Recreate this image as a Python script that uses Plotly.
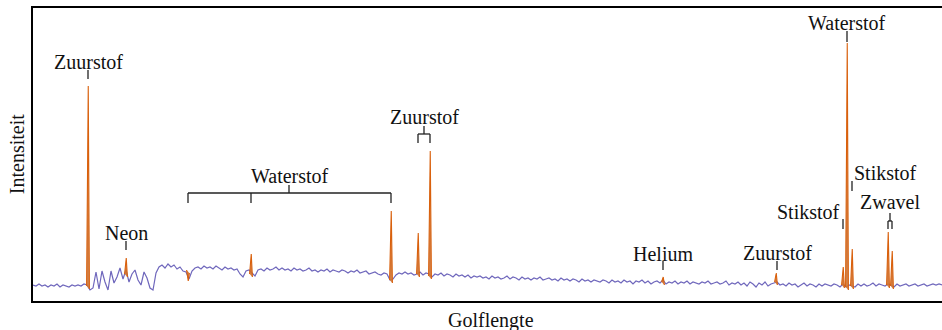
import plotly.graph_objects as go

# ---------------- data ----------------
# Baseline spectrum (intensity, arbitrary units) sampled every 3 wavelength units,
# given in segments: (start wavelength, values)
seg_a_start = 33
seg_a = [16, 15, 17, 15, 16, 14, 16, 15, 17, 14, 16, 15, 14, 16, 15, 16, 15, 17, 16]
seg_b_start = 90
seg_b = [11, 13, 29, 12, 30, 19, 11, 30, 18, 24, 33, 22, 31, 19, 27, 31, 21, 16, 29, 23,
         13, 11, 28, 34, 36, 33, 37, 34, 36, 32, 34, 30, 29]
seg_c_start = 189
seg_c = [22, 30, 33, 34, 32, 35, 33, 34, 32, 35, 33, 31, 34, 32, 33, 31, 32, 27, 24, 30,
         31, 28, 25, 31, 32, 30, 33, 31, 32, 34, 31, 33, 31, 32, 30, 33, 31, 32, 30, 31,
         33, 30, 31, 29, 31, 30, 32, 29, 31, 30, 29, 31, 30, 28, 30, 29, 31, 28, 29, 30,
         27, 28, 29, 27, 26, 28, 27]
seg_d_start = 390
seg_d = [21, 22, 26, 28, 27, 29, 27, 28, 26, 27, 29, 26, 28, 27, 24, 27, 26, 28, 25, 27,
         26, 24, 27, 25, 26, 24, 26, 23, 25, 24]
seg_e_start = 480
seg_e = [25, 23, 24, 22, 25, 23, 24, 22, 23, 25, 22, 24, 23, 21, 24, 22, 23, 21, 23, 22,
         24, 21, 22, 23, 21, 22, 20, 23, 21, 22, 20, 22, 21, 19, 22, 20, 21, 19, 21, 20,
         19, 21, 20, 18, 21, 19, 20, 18, 21, 19, 20, 17, 20, 19, 21, 18, 20, 17, 19, 20, 18]
seg_f_start = 663
seg_f = [21, 17, 19, 18, 20, 17, 19, 18, 20, 17, 19, 18, 17, 19, 18, 20, 17, 18, 19, 17,
         18, 20, 16, 18, 17, 19, 16, 18, 15, 19, 17, 14, 18, 16, 19, 15, 17, 18, 19, 16,
         17, 15, 18, 16, 17, 14, 16, 18, 15, 17, 16, 14, 17, 15, 17, 16, 15, 17, 16, 14,
         17, 14, 16, 15, 14, 17, 15, 17, 15, 16, 18, 15, 17, 16, 15, 17, 16, 14, 17, 15,
         16, 17, 15, 16, 17, 15, 16, 17, 15, 16, 17, 16, 17, 16]
sample_step = 3

# Emission lines: position, peak intensity, base intensity
peak_pos = [88, 126, 188, 251, 391, 418, 430, 663, 776, 843, 847, 852, 888, 892]
peak_top = [215, 43, 20, 47, 90, 68, 150, 24, 28, 34, 258, 52, 69, 50]
peak_base = [15, 27, 31, 27, 21, 27, 25, 19, 19, 16, 14, 15, 16, 15]

# Labels
label_text = ["Zuurstof", "Neon", "Waterstof", "Zuurstof", "Helium", "Zuurstof",
              "Stikstof", "Waterstof", "Stikstof", "Zwavel"]

# ---------------- build ----------------
segments = [(seg_a_start, seg_a), (seg_b_start, seg_b), (seg_c_start, seg_c),
            (seg_d_start, seg_d), (seg_e_start, seg_e), (seg_f_start, seg_f)]
bx, by = [], []
for start, vals in segments:
    for i, v in enumerate(vals):
        bx.append(start + sample_step * i)
        by.append(v)

PURPLE = "#6f67bc"
ORANGE = "#d9600c"
FONT = "Liberation Serif"
FS = 20

fig = go.Figure()
fig.add_trace(go.Scatter(x=bx, y=by, mode="lines",
                         line=dict(color=PURPLE, width=1.2), hoverinfo="skip",
                         showlegend=False))

hw = 1.4
for px, top, base in zip(peak_pos, peak_top, peak_base):
    fig.add_trace(go.Scatter(
        x=[px - hw, px - 0.25, px + 0.25, px + hw],
        y=[base, top, top, base - 3],
        mode="lines", fill="toself",
        fillcolor="rgba(205,120,60,0.9)",
        line=dict(color=ORANGE, width=1.1),
        hoverinfo="skip", showlegend=False))

# annotation layout (text, x, y, xanchor)
P = dict(zip(range(len(peak_pos)), peak_pos))
ann_specs = [
    (label_text[0], P[0], 239, "center"),
    (label_text[1], P[1], 68, "center"),
    (label_text[2], 290, 125, "center"),
    (label_text[3], (P[5] + P[6]) / 2, 184, "center"),
    (label_text[4], P[7], 47, "center"),
    (label_text[5], P[8] + 1, 48, "center"),
    (label_text[6], P[9] - 1, 89, "right"),
    (label_text[7], P[10], 278, "center"),
    (label_text[8], P[11], 128, "left"),
    (label_text[9], (P[12] + P[13]) / 2, 99, "center"),
]
annotations = []
for t, x, y, xa in ann_specs:
    annotations.append(dict(text=t, x=x, y=y, xref="x", yref="y", xanchor=xa,
                            yanchor="middle", showarrow=False,
                            font=dict(family=FONT, size=FS, color="#111")))
annotations.append(dict(text="Golflengte", x=491, y=-0.068, xref="x", yref="paper",
                        xanchor="center", yanchor="middle", showarrow=False,
                        font=dict(family=FONT, size=FS, color="#111")))
annotations.append(dict(text="Intensiteit", x=-0.018, y=0.5, xref="paper", yref="paper",
                        xanchor="center", yanchor="middle", showarrow=False, textangle=-90,
                        font=dict(family=FONT, size=FS, color="#111")))

shapes = []
def seg(x0, y0, x1, y1):
    shapes.append(dict(type="line", xref="x", yref="y", x0=x0, y0=y0, x1=x1, y1=y1,
                       line=dict(color="#222", width=1.3)))

# single ticks
seg(P[0], 231, P[0], 222)
seg(P[1], 60, P[1], 51)
seg(P[7], 40, P[7], 31)
seg(P[8] + 1, 40, P[8] + 1, 31)
seg(P[9], 82, P[9], 72)
seg(P[10], 270, P[10], 259)
seg(P[11], 120, P[11], 110)
# Waterstof bracket
seg(P[2], 108, P[4], 108)
for k in (2, 3, 4):
    seg(P[k], 108, P[k], 98)
seg(289, 116, 289, 108)
# Zuurstof pair bracket
seg(P[5], 167, P[6], 167)
for k in (5, 6):
    seg(P[k], 167, P[k], 158)
seg((P[5] + P[6]) / 2, 175, (P[5] + P[6]) / 2, 167)
# Zwavel bracket
seg(P[12], 80, P[13], 80)
for k in (12, 13):
    seg(P[k], 80, P[k], 72)
seg((P[12] + P[13]) / 2, 88, (P[12] + P[13]) / 2, 80)

fig.update_layout(
    width=942, height=330,
    margin=dict(l=33, r=0, t=8, b=29),
    paper_bgcolor="white", plot_bgcolor="white",
    font=dict(family=FONT),
    xaxis=dict(range=[33, 942], showgrid=False, zeroline=False, showticklabels=False,
               ticks="", showline=True, mirror=True, linecolor="black", linewidth=2),
    yaxis=dict(range=[0, 293], showgrid=False, zeroline=False, showticklabels=False,
               ticks="", showline=True, linecolor="black", linewidth=2),
    annotations=annotations, shapes=shapes,
)

fig.write_html("out.html",
               config={"displayModeBar": False, "staticPlot": True},
               post_script="document.body.style.margin='0';document.body.style.overflow='hidden';")
